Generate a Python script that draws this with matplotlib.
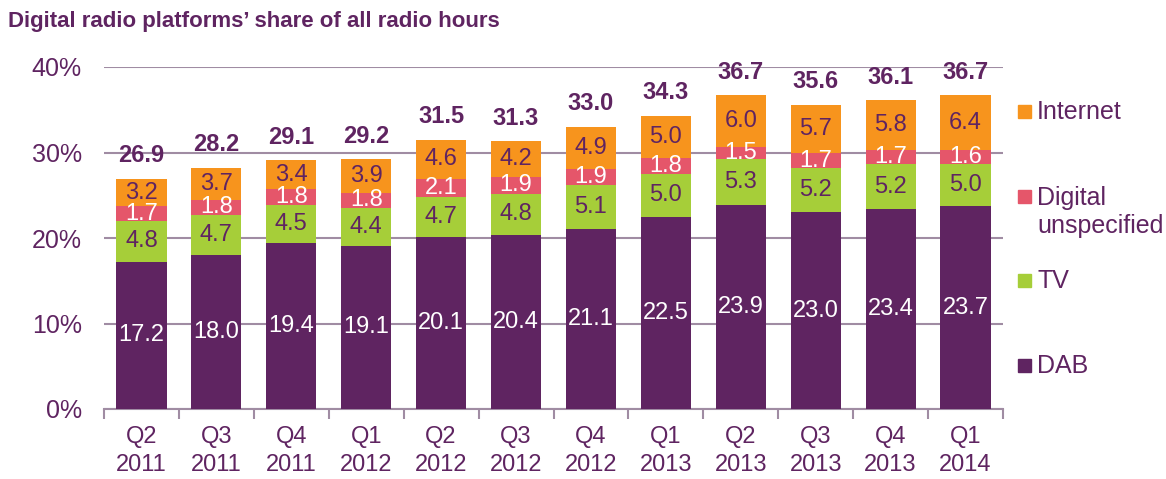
import matplotlib.pyplot as plt
from matplotlib.patches import Rectangle
import numpy as np

plt.rcParams['font.family'] = ['Liberation Sans', 'DejaVu Sans']

# Quarterly share of all radio listening hours (%)
quarters = ['Q2\n2011', 'Q3\n2011', 'Q4\n2011', 'Q1\n2012', 'Q2\n2012', 'Q3\n2012',
            'Q4\n2012', 'Q1\n2013', 'Q2\n2013', 'Q3\n2013', 'Q4\n2013', 'Q1\n2014']
dab = [17.2, 18.0, 19.4, 19.1, 20.1, 20.4, 21.1, 22.5, 23.9, 23.0, 23.4, 23.7]
tv = [4.8, 4.7, 4.5, 4.4, 4.7, 4.8, 5.1, 5.0, 5.3, 5.2, 5.2, 5.0]
digital_unspec = [1.7, 1.8, 1.8, 1.8, 2.1, 1.9, 1.9, 1.8, 1.5, 1.7, 1.7, 1.6]
internet = [3.2, 3.7, 3.4, 3.9, 4.6, 4.2, 4.9, 5.0, 6.0, 5.7, 5.8, 6.4]
totals = [26.9, 28.2, 29.1, 29.2, 31.5, 31.3, 33.0, 34.3, 36.7, 35.6, 36.1, 36.7]

PURPLE = '#5F2461'
GREEN = '#A6CE39'
PINK = '#E5566A'
ORANGE = '#F7941D'
GRID = '#A08CA3'

series = [
    ('DAB', dab, PURPLE, 'white'),
    ('TV', tv, GREEN, PURPLE),
    ('Digital\nunspecified', digital_unspec, PINK, 'white'),
    ('Internet', internet, ORANGE, PURPLE),
]

fig = plt.figure(figsize=(11.66, 4.79), dpi=100)
ax = fig.add_axes([104 / 1166, 70 / 479, 899 / 1166, 342 / 479])

x = np.arange(len(quarters))
bottom = np.zeros(len(quarters))
for name, vals, color, txt in series:
    vals = np.array(vals)
    ax.bar(x, vals, width=0.67, bottom=bottom, color=color, zorder=3)
    for xi, b, v in zip(x, bottom, vals):
        ax.text(xi, b + v / 2, f'{v:.1f}', ha='center', va='center',
                fontsize=17, color=txt, zorder=4)
    bottom += vals

for xi, t in zip(x, totals):
    ax.annotate(f'{t:.1f}', (xi, t), xytext=(0, 12), textcoords='offset points',
                ha='center', va='baseline', fontsize=17, fontweight='bold',
                color=PURPLE)

ax.set_xlim(-0.5, len(quarters) - 0.5)
ax.set_ylim(0, 40)
ax.set_yticks([0, 10, 20, 30, 40])
ax.set_yticklabels([f'{v}%' for v in [0, 10, 20, 30, 40]])
ax.grid(axis='y', color=GRID, linewidth=1.5, zorder=0)
ax.tick_params(axis='y', length=0, pad=16, labelsize=18, labelcolor=PURPLE)

ax.set_xticks(x)
ax.set_xticklabels(quarters)
for lbl in ax.get_xticklabels():
    lbl.set_linespacing(1.35)
ax.set_xticks(np.arange(len(quarters) + 1) - 0.5, minor=True)
ax.tick_params(axis='x', which='major', length=0, pad=12, labelsize=17,
               labelcolor=PURPLE)
ax.tick_params(axis='x', which='minor', length=7, width=1.5, color=GRID)

for side in ['left', 'right', 'top']:
    ax.spines[side].set_visible(False)
ax.spines['bottom'].set_color(GRID)
ax.spines['bottom'].set_linewidth(1.5)

# Legend drawn by hand to keep the wide spacing between entries
legend_items = [('Internet', ORANGE, 112), ('Digital\nunspecified', PINK, 212),
                ('TV', GREEN, 281), ('DAB', PURPLE, 366)]
for label, color, ypix in legend_items:
    first_line_y = ypix if '\n' not in label else ypix - 15
    fig.patches.append(Rectangle((1018 / 1166, 1 - (first_line_y + 6) / 479),
                                 13 / 1166, 13 / 479, color=color,
                                 transform=fig.transFigure, figure=fig))
    fig.text(1037 / 1166, 1 - ypix / 479, label, ha='left', va='center',
             fontsize=18, color=PURPLE, linespacing=1.2)

fig.text(8 / 1166, 1 - 21 / 479, 'Digital radio platforms\u2019 share of all radio hours',
         ha='left', va='center', fontsize=16, fontweight='bold', color=PURPLE)

fig.savefig('out.png', dpi=100)
